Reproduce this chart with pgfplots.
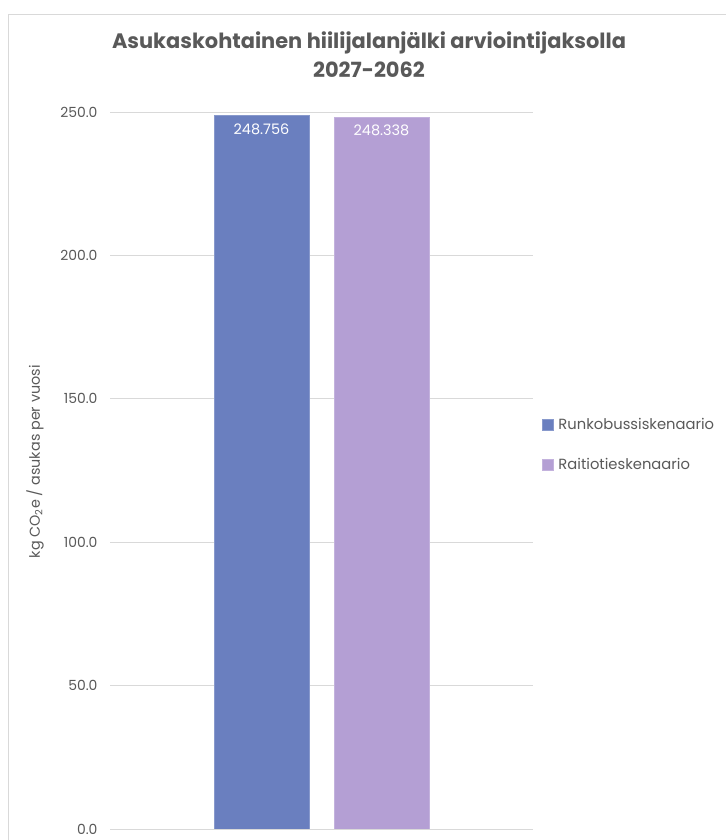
\documentclass[border=0pt]{standalone}
\usepackage{pgfplots}
\pgfplotsset{compat=1.18}
\usepackage{fontspec}
\setmainfont{Poppins}
\definecolor{txt}{HTML}{595959}
\definecolor{gridc}{HTML}{D9D9D9}
\definecolor{bblue}{HTML}{6A7FBF}
\definecolor{bpurp}{HTML}{B49FD4}
\begin{document}
\begin{tikzpicture}[x=1bp,y=1bp]
\path[use as bounding box] (0,0) rectangle (726,840);
\draw[gridc] (8,0) -- (8,826) -- (726,826);
\node[txt, font=\bfseries\fontsize{21}{29}\selectfont, align=center] at (369,785) {Asukaskohtainen hiilijalanjälki arviointijaksolla\\2027-2062};
\begin{axis}[
  at={(110bp,11bp)}, anchor=south west,
  scale only axis, width=423bp, height=717bp,
  xmin=0, xmax=423, ymin=0, ymax=250,
  ytick={0,50,100,150,200,250},
  xtick=\empty,
  ymajorgrids, grid style={gridc, line width=0.9pt},
  axis line style={draw=none},
  major tick length=0pt,
  /pgf/number format/assume math mode=true,
  yticklabel style={txt, xshift=-9bp, font=\fontsize{14}{16}\selectfont, /pgf/number format/.cd, fixed, fixed zerofill, precision=1},
  ylabel={kg CO\textsubscript{2}e / asukas per vuosi},
  ylabel style={txt, font=\fontsize{14.4}{16}\selectfont, at={(axis description cs:-0.177,0.512)}, anchor=center},
  ybar, bar width=95bp, bar shift=0pt,
  nodes near coords={\pgfmathprintnumber[fixed, fixed zerofill, precision=3]{\pgfplotspointmeta}},
  every node near coord/.append style={white, anchor=north, yshift=-5bp, font=\fontsize{14.5}{16}\selectfont},
  legend style={at={(1.021,0.536)}, anchor=west, draw=none, fill=none, text=txt, font=\fontsize{14.8}{16}\selectfont, row sep=24bp, inner sep=0pt},
  legend cell align=left,
  legend image code/.code={\fill[#1] (0bp,-5.5bp) rectangle (11bp,5.5bp); \path (14bp,0bp);},
]
\addplot[fill=bblue, draw=bblue!80!white] coordinates {(151.5,248.756)};
\addlegendentry{Runkobussiskenaario}
\addplot[fill=bpurp, draw=bpurp!80!white] coordinates {(271.5,248.338)};
\addlegendentry{Raitiotieskenaario}
\end{axis}
\end{tikzpicture}
\end{document}
